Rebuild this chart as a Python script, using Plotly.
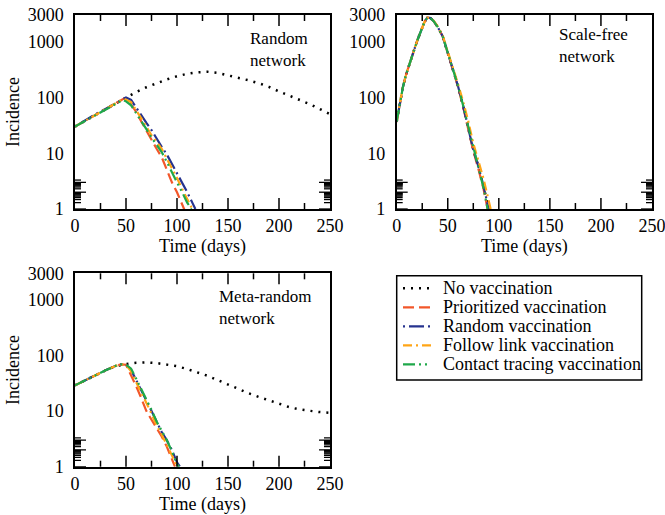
import math
import plotly.graph_objects as go

# ---------------- data ----------------
SERIES_NAMES = ["No vaccination", "Prioritized vaccination", "Random vaccination",
                "Follow link vaccination", "Contact tracing vaccination"]
PANEL_LABELS = ["Random<br>network", "Scale-free<br>network", "Meta-random<br>network"]
X_TICKS = [0, 50, 100, 150, 200, 250]
X_MINOR = [25, 75, 125, 175, 225]
Y_TICKS = [1, 10, 100, 1000, 3000]
Y_TICK_TEXT = ["1", "10", "100", "1000", "3000"]
Y_MINOR = [2, 3, 4, 5, 6, 7, 8, 9, 20, 30, 40, 50, 60, 70, 80, 90,
           200, 300, 400, 500, 600, 700, 800, 900, 2000]

# Random network
RN_T_NOVAC = [0, 10, 20, 30, 40, 50, 60, 70, 80, 90, 100, 110, 120, 130, 140, 150, 160, 170,
              180, 190, 200, 210, 220, 230, 240, 250]
RN_NOVAC = [30, 38, 48, 61, 78, 100, 125, 152, 180, 210, 240, 265, 282, 288, 275, 250, 225, 203,
            180, 155, 128, 108, 92, 76, 62, 50]
RN_T_PRIOR = [0, 10, 20, 30, 40, 48, 55, 60, 65, 70, 75, 80, 85, 90, 95, 100, 105, 108]
RN_PRIOR = [30, 38, 48, 60, 76, 95, 75, 55, 37, 25, 17, 12, 8.5, 5, 3, 2, 1.2, 0.9]
RN_T_RANDV = [0, 10, 20, 30, 40, 50, 55, 60, 65, 70, 75, 80, 85, 90, 95, 100, 105, 110, 115, 118]
RN_RANDV = [30, 39, 50, 62, 80, 100, 90, 65, 48, 35, 26, 18, 13, 9.5, 6.5, 4.5, 3, 2, 1.3, 1.0]
RN_T_FOLLOW = [0, 10, 20, 30, 40, 48, 55, 60, 65, 70, 75, 80, 85, 90, 95, 100, 105, 110, 115]
RN_FOLLOW = [30, 38, 48, 60, 76, 95, 82, 60, 42, 30, 21, 16, 12, 8, 5.5, 3.6, 2.3, 1.5, 1.0]
RN_T_CONTACT = [0, 10, 20, 30, 40, 47, 50, 55, 60, 65, 70, 75, 80, 85, 90, 95, 100, 105, 110, 114]
RN_CONTACT = [30, 38, 48, 60, 75, 90, 85, 72, 52, 38, 27, 19, 14, 10.5, 7, 4.5, 3, 2, 1.3, 1.0]

# Scale-free network
SF_T_NOVAC = [0, 3, 6, 9, 12, 15, 18, 21, 24, 27, 30, 33, 36, 40, 45, 50, 55, 60, 65, 70, 75, 80, 85, 90]
SF_NOVAC = [37, 80, 150, 250, 380, 560, 800, 1150, 1650, 2200, 2700, 2650, 2350, 1850, 1250, 620,
            311, 160, 71, 30, 11.5, 5.8, 2.6, 1.0]
SF_T_PRIOR = [0, 3, 6, 9, 12, 15, 18, 21, 24, 27, 30, 33, 36, 40, 45, 50, 55, 60, 65, 70, 75, 80, 85, 89]
SF_PRIOR = [36, 78, 150, 250, 380, 560, 800, 1150, 1650, 2200, 2700, 2650, 2350, 1850, 1250, 620,
            300, 155, 68, 28, 11, 5.2, 2.3, 1.0]
SF_T_RANDV = [0, 3, 6, 9, 12, 15, 18, 21, 24, 27, 30, 33, 36, 40, 45, 50, 55, 60, 65, 70, 75, 80, 85, 90]
SF_RANDV = [37, 80, 150, 250, 380, 560, 800, 1150, 1650, 2200, 2700, 2650, 2350, 1850, 1250, 620,
            311, 160, 71, 30, 11.5, 5.8, 2.6, 1.0]
SF_T_FOLLOW = [0, 3, 6, 9, 12, 15, 18, 21, 24, 27, 30, 33, 36, 40, 45, 50, 55, 60, 65, 70, 75, 80, 85, 92]
SF_FOLLOW = [38, 82, 152, 250, 380, 560, 800, 1150, 1650, 2200, 2700, 2650, 2380, 1900, 1300, 680,
             340, 175, 85, 38, 15, 7.5, 3.5, 1.0]
SF_T_CONTACT = [0, 3, 6, 9, 12, 15, 18, 21, 24, 27, 30, 33, 36, 40, 45, 50, 55, 60, 65, 70, 75, 80, 85, 89]
SF_CONTACT = [37, 80, 150, 250, 380, 560, 800, 1150, 1650, 2200, 2700, 2650, 2350, 1850, 1250, 620,
              311, 162, 72, 30, 12, 5.5, 2.4, 1.0]

# Meta-random network
MR_T_NOVAC = [0, 10, 20, 30, 40, 50, 60, 70, 80, 90, 100, 110, 120, 130, 140, 150, 160, 170,
              180, 190, 200, 210, 220, 230, 240, 250]
MR_NOVAC = [29, 36, 44, 54, 64, 70, 74, 75, 73, 69, 64, 57, 50, 43, 36, 30, 25, 21,
            18, 15.5, 13.5, 11.8, 10.7, 10, 9.6, 9.3]
MR_T_PRIOR = [0, 10, 20, 30, 40, 45, 50, 55, 60, 65, 70, 75, 80, 85, 90, 95, 98]
MR_PRIOR = [29, 36, 44, 54, 65, 69, 68, 45, 28, 17, 10, 7, 5, 3.5, 2.3, 1.4, 1.0]
MR_T_RANDV = [0, 10, 20, 30, 40, 45, 50, 55, 60, 65, 70, 75, 80, 85, 90, 95, 100, 103]
MR_RANDV = [29, 36, 44, 54, 65, 69, 68, 55, 36, 24, 15, 10, 6.5, 4.2, 3, 2, 1.2, 1.0]
MR_T_FOLLOW = [0, 10, 20, 30, 40, 45, 50, 55, 60, 65, 70, 75, 80, 85, 90, 95, 100]
MR_FOLLOW = [29, 36, 44, 54, 65, 69, 68, 52, 33, 22, 14, 9, 5.5, 3.8, 2.5, 1.6, 1.0]
MR_T_CONTACT = [0, 10, 20, 30, 40, 45, 50, 55, 60, 65, 70, 75, 80, 85, 90, 95, 100, 102]
MR_CONTACT = [29, 36, 44, 54, 65, 69, 68, 58, 38, 25, 16, 10.5, 6.5, 4.5, 3, 1.9, 1.1, 1.0]

PANELS = [
    [(RN_T_NOVAC, RN_NOVAC), (RN_T_PRIOR, RN_PRIOR), (RN_T_RANDV, RN_RANDV),
     (RN_T_FOLLOW, RN_FOLLOW), (RN_T_CONTACT, RN_CONTACT)],
    [(SF_T_NOVAC, SF_NOVAC), (SF_T_PRIOR, SF_PRIOR), (SF_T_RANDV, SF_RANDV),
     (SF_T_FOLLOW, SF_FOLLOW), (SF_T_CONTACT, SF_CONTACT)],
    [(MR_T_NOVAC, MR_NOVAC), (MR_T_PRIOR, MR_PRIOR), (MR_T_RANDV, MR_RANDV),
     (MR_T_FOLLOW, MR_FOLLOW), (MR_T_CONTACT, MR_CONTACT)],
]

# ---------------- styles ----------------
W, H = 665, 515
FONT = "Liberation Serif"
STYLES = [
    dict(color="black", width=2.5, dash="2px,6px"),
    dict(color="#f2572a", width=2.2, dash="11px,5px"),
    dict(color="#26338f", width=2.2, dash="2px,4px,15px,4px"),
    dict(color="#ffa516", width=2.2, dash="9px,4px,2px,4px"),
    dict(color="#1fa84a", width=2.2, dash="12px,4px,2px,4px,2px,4px"),
]
Y_RANGE = [0, math.log10(3000)]
X_RANGE = [0, 250]
MAJOR_LEN, MINOR_LEN = 11, 6  # tick lengths in pixels

def px_x(p):
    return p / W

def px_y(p):
    return 1 - p / H

# panel boxes in pixels: (left, right, top, bottom)
BOXES = [(75, 330, 15, 209), (396.7, 652, 15, 209), (75, 330, 273.3, 466.7)]
LABEL_POS = [(0.678, 0.820), (0.626, 0.843), (0.556, 0.825)]

fig = go.Figure()
layout = dict(template="none", width=W, height=H, margin=dict(l=0, r=0, t=0, b=0, pad=0),
              paper_bgcolor="white", plot_bgcolor="white", showlegend=False,
              font=dict(family=FONT, size=18, color="black"))

AX_COMMON = dict(ticks="", showline=True, linewidth=1.5, linecolor="black", mirror=True,
                 showgrid=False, zeroline=False, automargin=False, ticklabeloverflow="allow",
                 tickfont=dict(family=FONT, size=18, color="black"))

annotations = []
shapes = []
for i, (box, panel) in enumerate(zip(BOXES, PANELS)):
    sfx = "" if i == 0 else str(i + 1)
    xa, ya = "xaxis" + sfx, "yaxis" + sfx
    xr, yr = "x" + sfx, "y" + sfx
    l, r, t, b = box
    pw, ph = r - l, b - t
    layout[xa] = dict(domain=[px_x(l), px_x(r)], anchor=yr, range=X_RANGE,
                      tickmode="array", tickvals=X_TICKS,
                      title=dict(text="Time (days)", font=dict(family=FONT, size=18), standoff=4),
                      **AX_COMMON)
    layout[ya] = dict(domain=[px_y(b), px_y(t)], anchor=xr, type="log", range=Y_RANGE,
                      tickmode="array", tickvals=Y_TICKS, ticktext=Y_TICK_TEXT,
                      ticklabelstandoff=6, **AX_COMMON)
    if i != 1:
        layout[ya]["title"] = dict(text="Incidence", font=dict(family=FONT, size=18), standoff=3)

    # inward tick marks on all four sides, placed through the axes' own scales
    for vals, ln in ((X_TICKS, MAJOR_LEN), (X_MINOR, MINOR_LEN)):
        for v in vals:
            if v <= X_RANGE[0] or v >= X_RANGE[1]:
                continue
            f = ln / ph
            for y0, y1 in ((0, f), (1, 1 - f)):
                shapes.append(dict(type="line", xref=xr, yref=yr + " domain", x0=v, x1=v,
                                   y0=y0, y1=y1, line=dict(color="black", width=1.5)))
    for vals, ln in ((Y_TICKS, MAJOR_LEN), (Y_MINOR, MINOR_LEN)):
        for v in vals:
            lv = math.log10(v)
            if lv <= Y_RANGE[0] or lv >= Y_RANGE[1] - 1e-9:
                continue
            f = ln / pw
            for x0, x1 in ((0, f), (1, 1 - f)):
                shapes.append(dict(type="line", xref=xr + " domain", yref=yr, x0=x0, x1=x1,
                                   y0=lv, y1=lv, line=dict(color="black", width=1.3)))

    for k, (tt, vv) in enumerate(panel):
        fig.add_trace(go.Scatter(x=tt, y=vv, mode="lines", name=SERIES_NAMES[k],
                                 line=STYLES[k], xaxis=xr, yaxis=yr, showlegend=False))
    lx, ly = LABEL_POS[i]
    annotations.append(dict(text=PANEL_LABELS[i], xref=xr + " domain", yref=yr + " domain",
                            x=lx, y=ly, xanchor="left", yanchor="middle", align="left",
                            showarrow=False, font=dict(family=FONT, size=17)))

# custom legend box
LEG_L, LEG_R, LEG_T, LEG_B = 396.7, 641.7, 275.7, 380
shapes.append(dict(type="rect", xref="paper", yref="paper", x0=px_x(LEG_L), x1=px_x(LEG_R),
                   y0=px_y(LEG_B), y1=px_y(LEG_T), line=dict(color="black", width=1.5),
                   fillcolor="white", layer="below"))
for k, name in enumerate(SERIES_NAMES):
    yy = px_y(288.3 + 19 * k)
    st = STYLES[k]
    shapes.append(dict(type="line", xref="paper", yref="paper", x0=px_x(403), x1=px_x(431),
                       y0=yy, y1=yy, line=dict(color=st["color"], width=st["width"], dash=st["dash"])))
    annotations.append(dict(text=name, xref="paper", yref="paper", x=px_x(441), y=yy,
                            xanchor="left", yanchor="middle", showarrow=False,
                            font=dict(family=FONT, size=18)))

layout["annotations"] = annotations
layout["shapes"] = shapes
fig.update_layout(**layout)
fig.write_html("out.html", config={"displayModeBar": False},
               post_script="document.body.style.margin='0';document.body.style.overflow='hidden';")
